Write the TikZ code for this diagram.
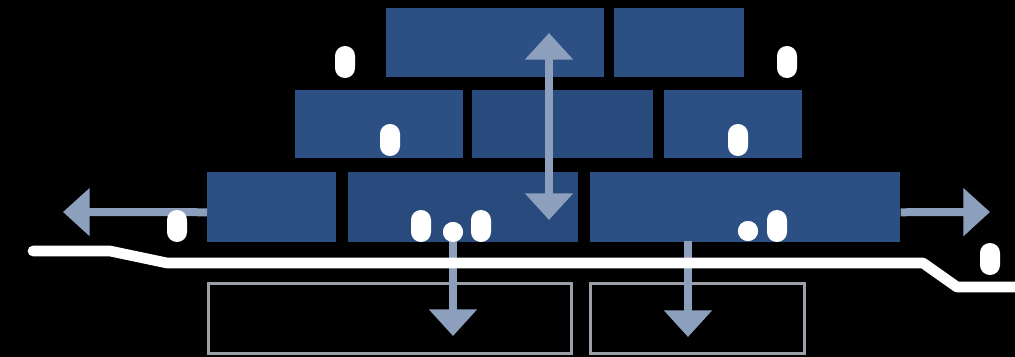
\documentclass[tikz,border=0pt]{standalone}
\usetikzlibrary{arrows.meta}
\definecolor{brickblue}{HTML}{2C5083}
\definecolor{brickdark}{HTML}{284A7C}
\definecolor{arrowgray}{HTML}{8CA0BE}
\definecolor{outlinegray}{HTML}{9A9FA8}
\begin{document}
\begin{tikzpicture}[x=0.75pt,y=-0.75pt,
  brick/.style={fill=brickblue, draw=none, inner sep=0pt, anchor=north west},
  outbox/.style={draw=outlinegray, line width=2.2pt, inner sep=0pt, anchor=north west},
  pill/.style={fill=white, draw=none, inner sep=0pt, minimum width=15pt, minimum height=24pt, rounded corners=7.4pt},
  dot/.style={circle, fill=white, draw=none, inner sep=0pt, minimum size=15pt},
  fatarrow/.style={draw=arrowgray, line width=6pt, -{Triangle[width=35pt,length=20pt]}, arrowgray},
  dblarrow/.style={draw=arrowgray, line width=6pt, {Triangle[width=35pt,length=20pt]}-{Triangle[width=35pt,length=20pt]}, arrowgray},
  track/.style={draw=white, line width=8pt, line cap=round, line join=round}]
\fill[black] (0,0) rectangle (1015,357);
\useasboundingbox (0,0) rectangle (1015,357);
% top row
\node[brick, minimum width=163.5pt, minimum height=51.75pt] (t1) at (386,8) {};
\node[brick, minimum width=97.5pt, minimum height=51.75pt] (t2) at (614,8) {};
% middle row
\node[brick, minimum width=126pt, minimum height=51pt] (m1) at (295,90) {};
\node[brick, fill=brickdark, minimum width=135.75pt, minimum height=51pt] (m2) at (472,90) {};
\node[brick, minimum width=103.5pt, minimum height=51pt] (m3) at (664,90) {};
% bottom row
\node[brick, minimum width=96.75pt, minimum height=52.5pt] (b1) at (207,172) {};
\node[brick, fill=brickdark, minimum width=172.5pt, minimum height=52.5pt] (b2) at (348,172) {};
\node[brick, minimum width=232.5pt, minimum height=52.5pt] (b3) at (590,172) {};
% outline boxes
\node[outbox, minimum width=272.25pt, minimum height=52.5pt] (o1) at (207,282) {};
\node[outbox, minimum width=160.5pt, minimum height=52.5pt] (o2) at (589,282) {};
% arrow end points
\coordinate (lefttip) at (63,212);
\coordinate (righttip) at (990,212);
\coordinate (vtop) at (549,33);
\coordinate (vbot) at (549,220);
\coordinate (d1tip) at (453,336);
\coordinate (d2tip) at (688,337);
\coordinate (d2start) at (688,241);
% dots
\node[dot] (dot1) at (453,232) {};
\node[dot] (dot2) at (748,231) {};
% arrows
\draw[fatarrow] ([yshift=-3.75pt]b1.west) -- (lefttip);
\draw[fatarrow] ([yshift=-3.75pt]b3.east) -- (righttip);
\draw[dblarrow] (vbot) -- (vtop);
\draw[fatarrow] (dot1.center) -- (d1tip);
\draw[fatarrow] (d2start) -- (d2tip);
% track line
\draw[track] (33,251) -- (110,251) -- (167,263) -- (923,263) -- (957,287) -- (1025,287);
% pills and dots on top
\node[dot] at (dot1) {};
\node[dot] at (dot2) {};
\node[pill] (p1) at (345,62) {};
\node[pill] (p2) at (787,62) {};
\node[pill] (p3) at (390,140) {};
\node[pill] (p4) at (738,140) {};
\node[pill] (p5) at (177,226) {};
\node[pill] (p6) at (421,226) {};
\node[pill] (p7) at (481,226) {};
\node[pill] (p8) at (777,226) {};
\node[pill] (p9) at (990,259) {};
\end{tikzpicture}
\end{document}
